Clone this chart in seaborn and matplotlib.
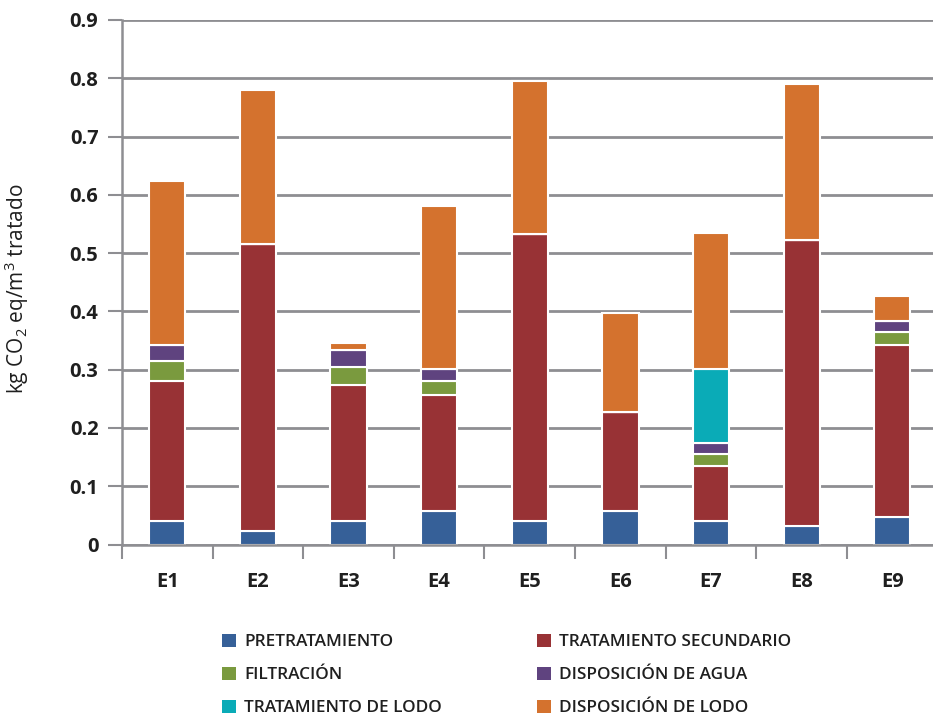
import numpy as np
import pandas as pd
import matplotlib
matplotlib.use("Agg")
import matplotlib.pyplot as plt
from matplotlib.patches import Patch
import seaborn as sns

categories = ["E1", "E2", "E3", "E4", "E5", "E6", "E7", "E8", "E9"]
pretratamiento = [0.040, 0.024, 0.040, 0.057, 0.040, 0.058, 0.040, 0.032, 0.048]
tratamiento_secundario = [0.240, 0.492, 0.233, 0.200, 0.492, 0.170, 0.095, 0.490, 0.294]
filtracion = [0.035, 0.0, 0.032, 0.023, 0.0, 0.0, 0.021, 0.0, 0.023]
disposicion_agua = [0.028, 0.0, 0.028, 0.022, 0.0, 0.0, 0.018, 0.0, 0.019]
tratamiento_lodo = [0.0, 0.0, 0.0, 0.0, 0.0, 0.0, 0.128, 0.0, 0.0]
disposicion_lodo = [0.280, 0.264, 0.012, 0.278, 0.264, 0.170, 0.233, 0.268, 0.043]

series_names = ["PRETRATAMIENTO", "TRATAMIENTO SECUNDARIO", "FILTRACIÓN",
                "DISPOSICIÓN DE AGUA", "TRATAMIENTO DE LODO", "DISPOSICIÓN DE LODO"]
series_values = [pretratamiento, tratamiento_secundario, filtracion,
                 disposicion_agua, tratamiento_lodo, disposicion_lodo]
colors = ["#366098", "#983235", "#7a9a3e", "#5f437f", "#0aabb7", "#d4722e"]
y_ticks = [0, 0.1, 0.2, 0.3, 0.4, 0.5, 0.6, 0.7, 0.8, 0.9]
y_tick_labels = ["0", "0.1", "0.2", "0.3", "0.4", "0.5", "0.6", "0.7", "0.8", "0.9"]

sns.set_theme(style="white")
FAM = "Open Sans"
plt.rcParams["font.family"] = [FAM, "DejaVu Sans"]
plt.rcParams["mathtext.fontset"] = "custom"
plt.rcParams["mathtext.rm"] = FAM
plt.rcParams["mathtext.it"] = FAM + ":italic"
plt.rcParams["mathtext.bf"] = FAM + ":bold"

W, H = 933, 718
fig = plt.figure(figsize=(W / 100, H / 100), dpi=100)
ax_left, ax_right = 122, 937.6
ax_top, ax_bot = 20, 544.5
ax = fig.add_axes([ax_left / W, (H - ax_bot) / H, (ax_right - ax_left) / W, (ax_bot - ax_top) / H])

grid_color = "#8e8e92"
text_color = "#1f1f1f"
ax.set_axisbelow(True)
ax.yaxis.grid(True, color=grid_color, linewidth=2)

bottom = np.zeros(len(categories))
for name, vals, col in zip(series_names, series_values, colors):
    df = pd.DataFrame({"cat": categories, "val": vals})
    sns.barplot(data=df, x="cat", y="val", order=categories, color=col,
                bottom=bottom.copy(), width=0.4, errorbar=None,
                edgecolor="white", linewidth=1.5, saturation=1, ax=ax)
    bottom += np.array(vals)

ax.set_xlim(-0.5, 8.5)
ax.set_ylim(0, 0.9)
ax.set_yticks(y_ticks)
ax.set_yticklabels(y_tick_labels, fontsize=14.5, fontweight="bold", color=text_color)
ax.set_xticks(range(len(categories)))
ax.set_xticklabels(categories, fontsize=14.5, fontweight="bold", color=text_color)
ax.set_xticks(np.arange(-0.5, 9, 1), minor=True)
ax.tick_params(axis="x", which="major", length=0, pad=20)
ax.tick_params(axis="x", which="minor", length=10, width=1.5, color=grid_color, direction="out")
ax.tick_params(axis="y", which="major", length=10, width=1.5, color=grid_color, direction="out", pad=7)
ax.tick_params(axis="both", which="both", bottom=True, left=True)

for s in ["top", "right"]:
    ax.spines[s].set_visible(False)
for s in ["left", "bottom"]:
    ax.spines[s].set_color(grid_color)
    ax.spines[s].set_linewidth(1.8)

ax.set_xlabel("")
ax.set_ylabel(r"kg CO$_2$ eq/m$^3$ tratado", fontsize=15, color=text_color)
ax.yaxis.set_label_coords(-0.111, 0.487)

order = [0, 2, 4, 1, 3, 5]
handles = [Patch(facecolor=colors[i], edgecolor="none") for i in order]
labels = [series_names[i] for i in order]
leg = fig.legend(handles, labels, ncol=2, loc="upper left",
                 bbox_to_anchor=(206 / W, 1 - 618 / H), frameon=False,
                 fontsize=12.4, handlelength=0.82, handleheight=0.82,
                 handletextpad=0.5, columnspacing=5.5, labelspacing=0.95)
for t in leg.get_texts():
    t.set_color(text_color)
    t.set_fontweight("semibold")

fig.savefig("out.png", dpi=100)
